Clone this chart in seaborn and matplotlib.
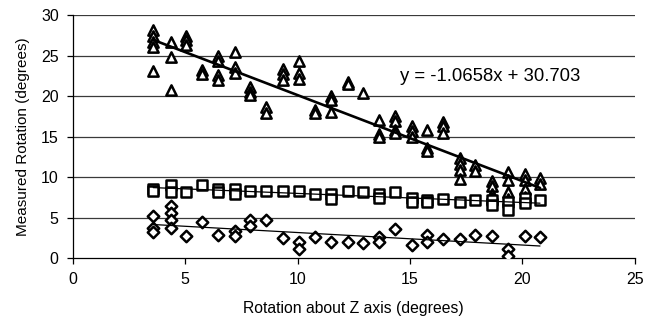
import numpy as np
import pandas as pd
import matplotlib
matplotlib.use("Agg")
import matplotlib.pyplot as plt
import seaborn as sns

# x positions (rotation about Z axis, degrees)
x_pos = [3.58, 4.38, 5.04, 5.76, 6.47, 7.22, 7.89, 8.60, 9.36, 10.07,
         10.78, 11.49, 12.24, 12.91, 13.62, 14.33, 15.09, 15.76, 16.47,
         17.22, 17.89, 18.64, 19.36, 20.11, 20.78]

# measured rotation, triangles
tri_vals = [[28.2, 27.5, 26.7, 26.1, 23.1], [26.7, 24.9, 20.8], [27.5, 27.0, 26.3],
            [23.3, 22.8], [25.0, 24.4, 22.6, 22.0], [25.5, 23.6, 22.9],
            [21.2, 20.6, 20.2], [18.7, 18.0], [23.4, 22.8, 22.0], [24.4, 22.9, 22.2],
            [18.3, 18.0], [20.1, 19.5, 18.1], [21.8, 21.5], [20.4],
            [17.1, 15.4, 15.0], [17.6, 16.9, 15.9, 15.5], [16.3, 15.7, 15.0],
            [15.8, 13.6, 13.2], [16.8, 16.3, 15.5], [12.4, 11.6, 10.9, 9.8],
            [11.5, 10.8], [9.6, 8.9, 8.0, 7.4], [10.7, 9.7, 8.2, 7.3],
            [10.4, 9.7, 8.6, 7.6], [9.9, 9.2]]

# measured rotation, squares
sq_vals = [[8.5, 8.3], [9.0, 8.2], [8.2], [9.1], [8.6, 8.2], [8.6, 8.0], [8.3],
           [8.3], [8.3], [8.3], [8.0], [7.9, 7.3], [8.3], [8.2], [8.0, 7.4], [8.2],
           [7.4, 6.9], [7.2, 7.0], [7.3], [7.0], [7.2], [7.2, 6.6], [7.0, 6.0],
           [7.4, 6.8], [7.2]]

# measured rotation, diamonds
dia_vals = [[5.2, 3.7, 3.3], [6.4, 5.6, 4.7, 3.7], [2.8], [4.5], [2.9], [3.4, 2.7],
            [4.7, 4.0], [4.7], [2.5], [2.0, 1.1], [2.6], [2.0], [2.0], [1.9],
            [2.6, 2.0], [3.6], [1.6], [2.9, 2.0], [2.4], [2.4], [2.9], [2.8],
            [1.2, 0.3], [2.7], [2.6]]

x_ticks = [0, 5, 10, 15, 20, 25]
y_ticks = [0, 5, 10, 15, 20, 25, 30]
equation = "y = -1.0658x + 30.703"


def to_frame(vals):
    xs, ys = [], []
    for xv, group in zip(x_pos, vals):
        for v in group:
            xs.append(xv)
            ys.append(v)
    return pd.DataFrame({"x": xs, "y": ys})


tri = to_frame(tri_vals)
sq = to_frame(sq_vals)
dia = to_frame(dia_vals)

sns.set_theme(style="white")
plt.rcParams["font.family"] = ["Liberation Sans", "DejaVu Sans"]

fig = plt.figure(figsize=(6.6, 3.29), dpi=100)
ax = fig.add_axes([0.11, 0.215, 0.852, 0.738])

for yv in y_ticks[1:]:
    ax.axhline(yv, color="#3a3a3a", lw=0.9, zorder=1)

mk = dict(color="white", edgecolor="black", linewidth=1.8, zorder=4, legend=False)
sns.scatterplot(data=tri, x="x", y="y", marker="^", s=55, ax=ax, **mk)
sns.scatterplot(data=sq, x="x", y="y", marker="s", s=50, ax=ax, **mk)
sns.scatterplot(data=dia, x="x", y="y", marker="D", s=34, ax=ax, **mk)

sns.regplot(data=tri, x="x", y="y", scatter=False, ci=None, ax=ax,
            color="black", line_kws=dict(lw=1.9, zorder=5))
sns.regplot(data=sq, x="x", y="y", scatter=False, ci=None, ax=ax,
            color="black", line_kws=dict(lw=0.9, zorder=5))
sns.regplot(data=dia, x="x", y="y", scatter=False, ci=None, ax=ax,
            color="black", line_kws=dict(lw=0.9, zorder=5))

ax.text(18.55, 22.4, equation, ha="center", va="center", fontsize=13.3, color="black")

ax.set_xlim(0, 25)
ax.set_ylim(0, 30)
ax.set_xticks(x_ticks)
ax.set_yticks(y_ticks)
ax.tick_params(axis="both", direction="out", length=4, width=0.9, color="black",
               labelsize=11.5, labelcolor="black", pad=6, bottom=True, left=True)
for side in ["top", "right"]:
    ax.spines[side].set_visible(False)
for side in ["left", "bottom"]:
    ax.spines[side].set_color("black")
    ax.spines[side].set_linewidth(0.9)

ax.set_xlabel("Rotation about Z axis (degrees)", fontsize=11.3, color="black", labelpad=10)
ax.set_ylabel("Measured Rotation (degrees)", fontsize=11, color="black", labelpad=8)

fig.savefig("out.png", dpi=100)
